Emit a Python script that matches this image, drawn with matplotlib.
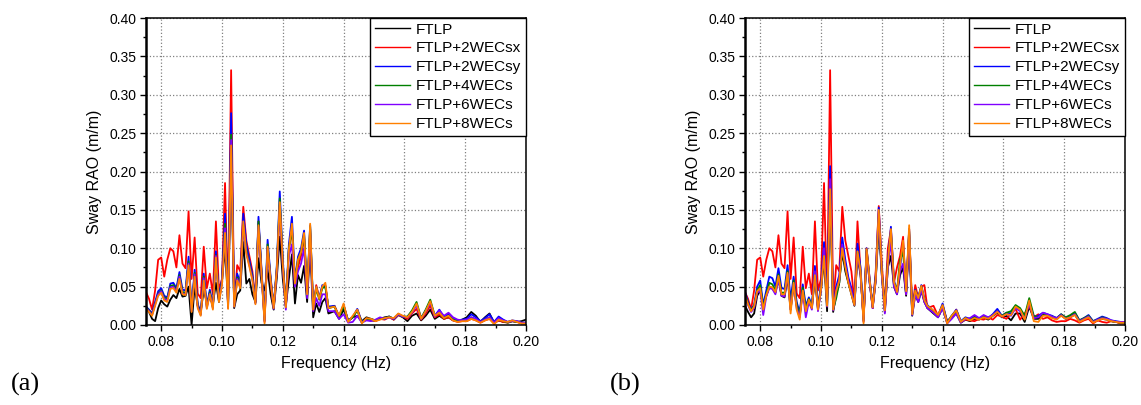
import numpy as np
import matplotlib
matplotlib.use("Agg")
import matplotlib.pyplot as plt
from matplotlib.ticker import MultipleLocator, FormatStrFormatter

plt.rcParams['font.family'] = ['Liberation Sans', 'DejaVu Sans']

# frequency grid (Hz): fine part up to 0.135, coarser tail
freq = np.round(np.r_[np.arange(75, 136) / 1000, np.arange(137, 200.1, 1.5) / 1000], 4)

labels = ["FTLP", "FTLP+2WECsx", "FTLP+2WECsy", "FTLP+4WECs", "FTLP+6WECs", "FTLP+8WECs"]
colors = ["black", "#ff0000", "#0000ff", "#008000", "#8000ff", "#ff8000"]

# shared FTLP+2WECsx curve (same in both panels)
red_sx = [0.043,0.034,0.020,0.045,0.085,0.088,0.063,0.085,0.100,0.096, 0.075,0.117,0.080,0.074,0.148,0.060,0.114,0.041,0.035,0.102,
          0.048,0.067,0.040,0.135,0.045,0.060,0.185,0.030,0.332,0.025, 0.078,0.070,0.154,0.110,0.090,0.070,0.030,0.135,0.070,0.004,
          0.100,0.060,0.022,0.070,0.155,0.080,0.024,0.100,0.125,0.055, 0.075,0.090,0.115,0.040,0.125,0.020,0.052,0.035,0.050,0.052, 0.022,
          0.025,0.012,0.026,0.005,0.010,0.020,0.004,0.007,0.006,0.005, 0.008,0.007,0.010,0.007,0.013,0.011,0.008,0.015,0.021,0.007,
          0.015,0.025,0.010,0.014,0.008,0.010,0.006,0.004,0.005,0.005, 0.008,0.006,0.003,0.006,0.008,0.002,0.006,0.004,0.003,0.005,
          0.004,0.002,0.002]

# panel (a)
black_a = [0.024,0.017,0.008,0.005,0.022,0.032,0.027,0.024,0.033,0.039, 0.035,0.047,0.037,0.038,0.050,0.000,0.050,0.025,0.018,0.045,
           0.030,0.035,0.027,0.055,0.030,0.058,0.100,0.028,0.220,0.022, 0.040,0.045,0.108,0.054,0.060,0.040,0.030,0.087,0.055,0.045,
           0.072,0.040,0.020,0.060,0.115,0.060,0.025,0.060,0.092,0.028, 0.065,0.055,0.077,0.030,0.102,0.010,0.028,0.017,0.030,0.035, 0.015,
           0.018,0.008,0.020,0.006,0.010,0.012,0.005,0.010,0.008,0.006, 0.008,0.010,0.011,0.007,0.013,0.010,0.005,0.012,0.015,0.006,
           0.012,0.020,0.008,0.012,0.008,0.010,0.006,0.005,0.007,0.010, 0.017,0.012,0.004,0.010,0.015,0.003,0.006,0.004,0.004,0.005,
           0.004,0.005,0.007]
blue_a = [0.024,0.020,0.015,0.030,0.044,0.048,0.038,0.036,0.054,0.055, 0.048,0.069,0.046,0.045,0.089,0.022,0.072,0.028,0.015,0.067,
          0.026,0.046,0.025,0.096,0.035,0.060,0.145,0.025,0.276,0.026, 0.067,0.055,0.145,0.105,0.085,0.065,0.030,0.141,0.072,0.010,
          0.111,0.062,0.024,0.075,0.174,0.085,0.025,0.105,0.141,0.058, 0.089,0.100,0.123,0.042,0.130,0.022,0.050,0.035,0.052,0.050, 0.024,
          0.025,0.010,0.026,0.006,0.010,0.021,0.004,0.008,0.007,0.006, 0.009,0.008,0.011,0.008,0.014,0.011,0.010,0.017,0.027,0.008,
          0.018,0.030,0.012,0.020,0.010,0.014,0.008,0.006,0.007,0.008, 0.014,0.010,0.005,0.009,0.014,0.004,0.011,0.007,0.004,0.006,
          0.005,0.003,0.003]
green_a = [0.023,0.019,0.014,0.028,0.041,0.045,0.036,0.034,0.051,0.052, 0.046,0.065,0.043,0.042,0.083,0.020,0.068,0.026,0.014,0.063,
           0.024,0.043,0.023,0.091,0.033,0.057,0.132,0.024,0.248,0.025, 0.062,0.052,0.130,0.098,0.080,0.062,0.029,0.135,0.068,0.006,
           0.105,0.058,0.022,0.072,0.165,0.080,0.023,0.100,0.125,0.055, 0.085,0.095,0.118,0.040,0.128,0.020,0.048,0.033,0.048,0.050, 0.022,
           0.024,0.010,0.025,0.005,0.010,0.019,0.003,0.008,0.006,0.006, 0.008,0.008,0.011,0.008,0.014,0.011,0.011,0.019,0.030,0.009,
           0.020,0.033,0.012,0.017,0.009,0.012,0.007,0.005,0.006,0.006, 0.010,0.007,0.004,0.007,0.010,0.003,0.008,0.005,0.003,0.005,
           0.004,0.003,0.003]
purple_a = [0.022,0.018,0.013,0.027,0.040,0.044,0.034,0.032,0.049,0.050, 0.044,0.063,0.041,0.040,0.080,0.018,0.066,0.024,0.013,0.061,
            0.022,0.041,0.022,0.090,0.031,0.055,0.126,0.022,0.241,0.024, 0.060,0.050,0.128,0.095,0.078,0.060,0.028,0.128,0.065,0.005,
            0.100,0.056,0.021,0.070,0.155,0.076,0.020,0.090,0.105,0.050, 0.070,0.080,0.100,0.035,0.120,0.018,0.035,0.025,0.040,0.040, 0.018,
            0.018,0.008,0.014,0.003,0.004,0.012,0.003,0.006,0.005,0.007, 0.010,0.008,0.010,0.008,0.014,0.011,0.010,0.016,0.026,0.008,
            0.018,0.029,0.011,0.019,0.012,0.016,0.010,0.007,0.006,0.007, 0.010,0.008,0.004,0.007,0.010,0.003,0.009,0.006,0.004,0.005,
            0.005,0.003,0.003]
orange_a = [0.021,0.017,0.012,0.025,0.038,0.042,0.032,0.030,0.047,0.048, 0.042,0.060,0.040,0.039,0.078,0.017,0.063,0.022,0.012,0.058,
            0.021,0.040,0.020,0.088,0.030,0.052,0.120,0.021,0.234,0.024, 0.058,0.048,0.135,0.092,0.076,0.058,0.027,0.130,0.066,0.002,
            0.102,0.057,0.022,0.071,0.160,0.078,0.023,0.098,0.132,0.054, 0.085,0.095,0.120,0.040,0.132,0.020,0.050,0.034,0.050,0.055, 0.022,
            0.024,0.012,0.028,0.004,0.012,0.020,0.002,0.009,0.008,0.005, 0.007,0.009,0.010,0.009,0.015,0.012,0.010,0.017,0.028,0.008,
            0.018,0.031,0.012,0.016,0.009,0.012,0.006,0.004,0.005,0.005, 0.008,0.006,0.003,0.006,0.008,0.001,0.007,0.005,0.004,0.006,
            0.004,0.002,0.002]

# panel (b)
black_b = [0.025,0.017,0.010,0.015,0.038,0.045,0.025,0.038,0.050,0.048, 0.042,0.060,0.038,0.036,0.062,0.020,0.052,0.025,0.012,0.045,
           0.020,0.032,0.022,0.062,0.020,0.045,0.085,0.018,0.170,0.017, 0.040,0.055,0.095,0.070,0.055,0.040,0.025,0.090,0.065,0.008,
           0.095,0.055,0.022,0.058,0.130,0.065,0.017,0.075,0.090,0.050, 0.040,0.065,0.075,0.038,0.110,0.012,0.040,0.030,0.045,0.030, 0.022,
           0.015,0.010,0.022,0.003,0.010,0.015,0.003,0.007,0.005,0.008, 0.007,0.010,0.007,0.012,0.016,0.010,0.012,0.006,0.015,0.015,
           0.004,0.024,0.008,0.008,0.014,0.012,0.010,0.008,0.013,0.008, 0.010,0.014,0.004,0.008,0.011,0.004,0.006,0.008,0.007,0.005,
           0.004,0.003,0.003]
blue_b = [0.043,0.030,0.020,0.026,0.050,0.058,0.026,0.045,0.063,0.061, 0.050,0.074,0.048,0.047,0.078,0.033,0.063,0.030,0.016,0.053,
          0.025,0.036,0.026,0.077,0.024,0.052,0.108,0.030,0.207,0.022, 0.050,0.065,0.114,0.085,0.062,0.048,0.030,0.106,0.075,0.010,
          0.100,0.060,0.026,0.065,0.153,0.072,0.022,0.085,0.128,0.058, 0.045,0.075,0.105,0.045,0.125,0.016,0.046,0.036,0.052,0.034, 0.026,
          0.018,0.012,0.028,0.004,0.012,0.020,0.005,0.010,0.008,0.012, 0.008,0.012,0.009,0.014,0.021,0.012,0.016,0.015,0.024,0.020,
          0.010,0.030,0.010,0.012,0.016,0.014,0.012,0.009,0.014,0.009, 0.012,0.016,0.006,0.009,0.013,0.005,0.008,0.011,0.009,0.006,
          0.005,0.004,0.003]
green_b = [0.040,0.028,0.019,0.025,0.045,0.052,0.022,0.040,0.055,0.053, 0.045,0.066,0.042,0.042,0.070,0.025,0.058,0.027,0.013,0.049,
           0.020,0.034,0.024,0.068,0.022,0.048,0.095,0.026,0.185,0.020, 0.035,0.055,0.100,0.075,0.056,0.044,0.027,0.095,0.070,0.006,
           0.097,0.057,0.024,0.060,0.140,0.068,0.020,0.080,0.120,0.055, 0.044,0.085,0.095,0.043,0.122,0.015,0.044,0.034,0.050,0.032, 0.024,
           0.017,0.012,0.025,0.003,0.012,0.018,0.004,0.009,0.007,0.010, 0.008,0.011,0.009,0.013,0.018,0.012,0.016,0.018,0.026,0.022,
           0.012,0.035,0.012,0.010,0.015,0.013,0.011,0.009,0.014,0.010, 0.013,0.017,0.006,0.009,0.012,0.005,0.007,0.010,0.008,0.005,
           0.004,0.003,0.003]
purple_b = [0.036,0.026,0.017,0.022,0.042,0.045,0.013,0.037,0.048,0.047, 0.040,0.060,0.038,0.037,0.066,0.020,0.053,0.022,0.010,0.044,
            0.010,0.030,0.020,0.070,0.018,0.046,0.100,0.024,0.190,0.019, 0.045,0.058,0.105,0.078,0.058,0.045,0.026,0.092,0.068,0.005,
            0.096,0.055,0.022,0.058,0.145,0.066,0.015,0.076,0.110,0.050, 0.040,0.070,0.080,0.040,0.118,0.013,0.040,0.030,0.046,0.030, 0.022,
            0.016,0.010,0.022,0.002,0.008,0.015,0.003,0.008,0.009,0.013, 0.009,0.013,0.010,0.013,0.018,0.011,0.014,0.012,0.022,0.018,
            0.008,0.028,0.009,0.010,0.016,0.014,0.011,0.009,0.013,0.008, 0.010,0.014,0.005,0.008,0.011,0.004,0.007,0.009,0.008,0.006,
            0.004,0.004,0.004]
orange_b = [0.038,0.027,0.018,0.024,0.044,0.048,0.020,0.039,0.050,0.049, 0.043,0.064,0.040,0.040,0.068,0.015,0.055,0.020,0.007,0.045,
            0.018,0.033,0.022,0.065,0.020,0.047,0.090,0.025,0.177,0.020, 0.044,0.058,0.100,0.076,0.055,0.040,0.026,0.096,0.070,0.002,
            0.099,0.058,0.023,0.060,0.150,0.070,0.019,0.082,0.125,0.056, 0.043,0.078,0.110,0.044,0.130,0.014,0.045,0.035,0.051,0.033, 0.025,
            0.019,0.013,0.026,0.002,0.012,0.019,0.004,0.009,0.006,0.009, 0.007,0.010,0.008,0.012,0.017,0.011,0.014,0.013,0.024,0.020,
            0.007,0.032,0.005,0.004,0.012,0.012,0.009,0.007,0.012,0.008, 0.010,0.013,0.004,0.007,0.010,0.003,0.006,0.008,0.007,0.005,
            0.004,0.003,0.003]

panels = [
    ("(a)", [black_a, red_sx, blue_a, green_a, purple_a, orange_a], 146),
    ("(b)", [black_b, red_sx, blue_b, green_b, purple_b, orange_b], 745),
]

W, H = 1141, 405
fig = plt.figure(figsize=(W / 100, H / 100), dpi=100)

for tag, series, left_px in panels:
    ax = fig.add_axes([left_px / W, 80 / H, 380 / W, 307 / H])
    for vals, lab, col in zip(series, labels, colors):
        ax.plot(freq, vals, color=col, lw=1.3, label=lab)

    ax.set_xlim(0.075, 0.20)
    ax.set_ylim(0, 0.40)
    ax.xaxis.set_major_locator(MultipleLocator(0.02))
    ax.xaxis.set_minor_locator(MultipleLocator(0.01))
    ax.yaxis.set_major_locator(MultipleLocator(0.05))
    ax.yaxis.set_minor_locator(MultipleLocator(0.025))
    ax.xaxis.set_major_formatter(FormatStrFormatter('%.2f'))
    ax.yaxis.set_major_formatter(FormatStrFormatter('%.2f'))
    ax.tick_params(which='major', direction='out', length=4, width=1, labelsize=10, pad=3)
    ax.tick_params(which='minor', direction='out', length=2.5, width=1)
    ax.grid(True, which='major', ls=':', color='#808080', lw=0.9)
    for s in ax.spines.values():
        s.set_linewidth(1.1)
    ax.spines['left'].set_linewidth(1.8)

    ax.set_xlabel("Frequency (Hz)", fontsize=11.5, labelpad=5)
    ax.set_ylabel("Sway RAO (m/m)", fontsize=11.5, labelpad=5)

    leg = ax.legend(loc='upper right', borderaxespad=0, fancybox=False, fontsize=11,
                    labelspacing=0.32, handlelength=2.3, handletextpad=0.4,
                    borderpad=0.3, framealpha=1)
    leg.get_frame().set_edgecolor('black')
    leg.get_frame().set_linewidth(1.0)
    for ln in leg.get_lines():
        ln.set_linewidth(1.0)

    fig.text((left_px - 135) / W, 1 - 384 / H, tag, family=['Liberation Serif', 'DejaVu Serif'],
             fontsize=19, va='center', ha='left')

fig.savefig("out.png", dpi=100)
